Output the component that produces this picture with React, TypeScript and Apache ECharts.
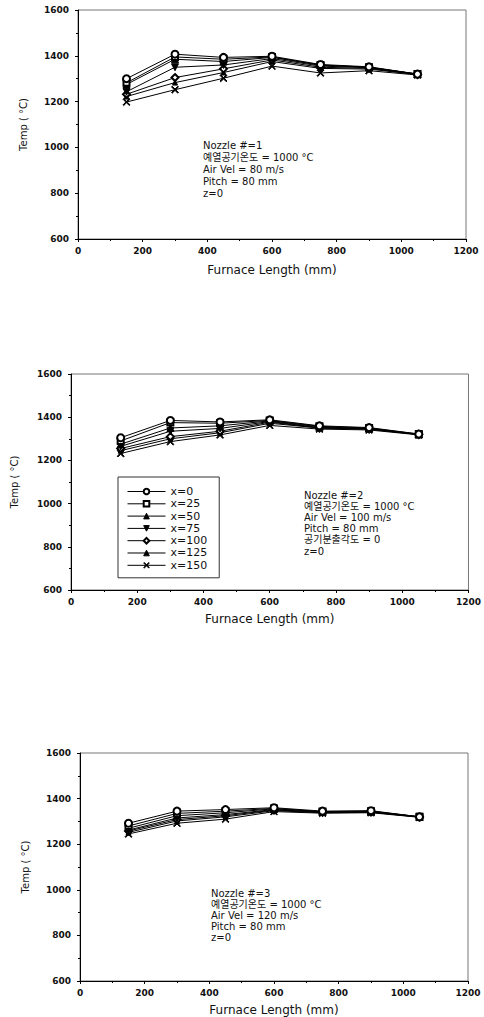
import React, { useEffect, useRef } from "react";
import * as echarts from "echarts";

const xPositions = [150, 300, 450, 600, 750, 900, 1050];
const seriesNames = ["x=0", "x=25", "x=50", "x=75", "x=100", "x=125", "x=150"];

const nozzle1 = [
  [1300, 1407, 1393, 1398, 1362, 1352, 1320],
  [1282, 1395, 1385, 1395, 1360, 1350, 1320],
  [1275, 1385, 1375, 1393, 1358, 1350, 1320],
  [1243, 1350, 1360, 1388, 1355, 1348, 1320],
  [1232, 1305, 1343, 1382, 1350, 1345, 1318],
  [1222, 1283, 1327, 1375, 1345, 1342, 1318],
  [1198, 1252, 1302, 1355, 1325, 1335, 1316],
];
const nozzle2 = [
  [1305, 1385, 1378, 1388, 1360, 1352, 1322],
  [1290, 1375, 1372, 1385, 1358, 1350, 1322],
  [1275, 1350, 1360, 1383, 1355, 1348, 1320],
  [1265, 1335, 1348, 1380, 1352, 1347, 1320],
  [1255, 1310, 1335, 1377, 1350, 1345, 1320],
  [1245, 1300, 1328, 1372, 1350, 1344, 1320],
  [1232, 1287, 1318, 1362, 1345, 1341, 1318],
];
const nozzle3 = [
  [1292, 1345, 1352, 1360, 1345, 1347, 1320],
  [1280, 1335, 1345, 1357, 1343, 1345, 1320],
  [1270, 1325, 1338, 1355, 1342, 1344, 1320],
  [1262, 1315, 1330, 1352, 1340, 1342, 1320],
  [1258, 1308, 1325, 1350, 1340, 1341, 1319],
  [1252, 1302, 1320, 1347, 1338, 1340, 1319],
  [1245, 1292, 1310, 1343, 1336, 1338, 1318],
];

const notes1 = ["Nozzle #=1", "예열공기온도 = 1000 °C", "Air Vel = 80 m/s", "Pitch = 80 mm", "z=0"];
const notes2 = ["Nozzle #=2", "예열공기온도 = 1000 °C", "Air Vel = 100 m/s", "Pitch = 80 mm", "공기분출각도 = 0", "z=0"];
const notes3 = ["Nozzle #=3", "예열공기온도 = 1000 °C", "Air Vel = 120 m/s", "Pitch = 80 mm", "z=0"];

const xAxisName = "Furnace Length (mm)";
const yAxisName = "Temp ( °C)";

const CROSS = "path://M0,1 L1,0 L5,4 L9,0 L10,1 L6,5 L10,9 L9,10 L5,6 L1,10 L0,9 L4,5 Z";
const markers = [
  { symbol: "emptyCircle", size: 7, rotate: 0 },
  { symbol: "emptyRect", size: 6, rotate: 0 },
  { symbol: "triangle", size: 7, rotate: 0 },
  { symbol: "triangle", size: 7, rotate: 180 },
  { symbol: "emptyDiamond", size: 7, rotate: 0 },
  { symbol: "triangle", size: 5, rotate: 0 },
  { symbol: CROSS, size: 7, rotate: 0 },
];

const FONT = "DejaVu Sans, Noto Sans CJK KR, sans-serif";

export default function App() {
  const ref = useRef<HTMLDivElement>(null);
  useEffect(() => {
    if (!ref.current) return;
    const chart = echarts.init(ref.current, null, { renderer: "svg" });

    const grids = [
      { left: 78, top: 10, width: 388, height: 229, yGap: 50, xGap: 25 },
      { left: 71, top: 374, width: 401, height: 216, yGap: 52, xGap: 23 },
      { left: 80, top: 753, width: 388, height: 229, yGap: 50, xGap: 23 },
    ];
    const datasets = [nozzle1, nozzle2, nozzle3];
    const plain = (v: number) => String(v);

    const xAxes = grids.map((g, i) => ({
      type: "value",
      gridIndex: i,
      min: 0,
      max: 1200,
      interval: 200,
      name: xAxisName,
      nameLocation: "middle",
      nameGap: g.xGap,
      nameTextStyle: { fontFamily: FONT, fontSize: 12, color: "#111" },
      axisLine: { show: true, lineStyle: { color: "#000", width: 1 } },
      axisTick: { show: true, inside: false, length: 3, lineStyle: { color: "#000" } },
      minorTick: { show: true, splitNumber: 2, length: 2, lineStyle: { color: "#000" } },
      splitLine: { show: false },
      axisLabel: { formatter: plain, fontFamily: FONT, fontSize: 9, fontWeight: "bold", color: "#111", margin: 7 },
    }));
    const yAxes = grids.map((g, i) => ({
      type: "value",
      gridIndex: i,
      min: 600,
      max: 1600,
      interval: 200,
      name: yAxisName,
      nameLocation: "middle",
      nameRotate: 90,
      nameGap: g.yGap,
      nameTextStyle: { fontFamily: FONT, fontSize: 10, color: "#111" },
      axisLine: { show: true, lineStyle: { color: "#000", width: 1 } },
      axisTick: { show: true, inside: false, length: 3, lineStyle: { color: "#000" } },
      minorTick: { show: true, splitNumber: 2, length: 2, lineStyle: { color: "#000" } },
      splitLine: { show: false },
      axisLabel: { formatter: plain, fontFamily: FONT, fontSize: 9, fontWeight: "bold", color: "#111", margin: 9 },
    }));

    const series: any[] = [];
    datasets.forEach((set, gi) => {
      set.forEach((vals, si) => {
        const m = markers[si];
        series.push({
          type: "line",
          name: seriesNames[si],
          xAxisIndex: gi,
          yAxisIndex: gi,
          data: xPositions.map((x, k) => [x, vals[k]]),
          symbol: m.symbol,
          symbolSize: m.size,
          symbolRotate: m.rotate,
          showSymbol: true,
          lineStyle: { color: "#000", width: 1 },
          itemStyle: { color: "#000", borderColor: "#000", borderWidth: 1 },
          z: 10 - si,
        });
      });
    });

    const noteText = (lines: string[], x: number, y: number, gap: number) =>
      lines.map((t, i) => ({
        type: "text",
        left: x,
        top: y + i * gap,
        style: { text: t, fontFamily: FONT, fontSize: 10, fill: "#111" },
      }));

    const option: any = {
      animation: false,
      backgroundColor: "#fff",
      grid: grids.map((g) => ({
        left: g.left,
        top: g.top,
        width: g.width,
        height: g.height,
        show: true,
        borderColor: "#777",
        borderWidth: 1,
        backgroundColor: "transparent",
      })),
      xAxis: xAxes,
      yAxis: yAxes,
      legend: {
        show: true,
        data: seriesNames,
        orient: "vertical",
        left: 118,
        top: 477,
        padding: [9, 12, 7, 9],
        itemGap: 1.3,
        itemWidth: 38,
        itemHeight: 7,
        borderColor: "#333",
        borderWidth: 1,
        selectedMode: false,
        lineStyle: { width: 1 },
        itemStyle: { borderWidth: 1 },
        textStyle: { fontFamily: FONT, fontSize: 11, color: "#111" },
      },
      graphic: [
        ...noteText(notes1, 203, 140, 12),
        ...noteText(notes2, 304, 490, 11.2),
        ...noteText(notes3, 211, 888, 11.2),
      ],
      series,
    };
    chart.setOption(option);
    return () => chart.dispose();
  }, []);

  return (
    <div
      ref={ref}
      style={{ position: "absolute", left: 0, top: 0, width: 484, height: 1017 }}
    />
  );
}
